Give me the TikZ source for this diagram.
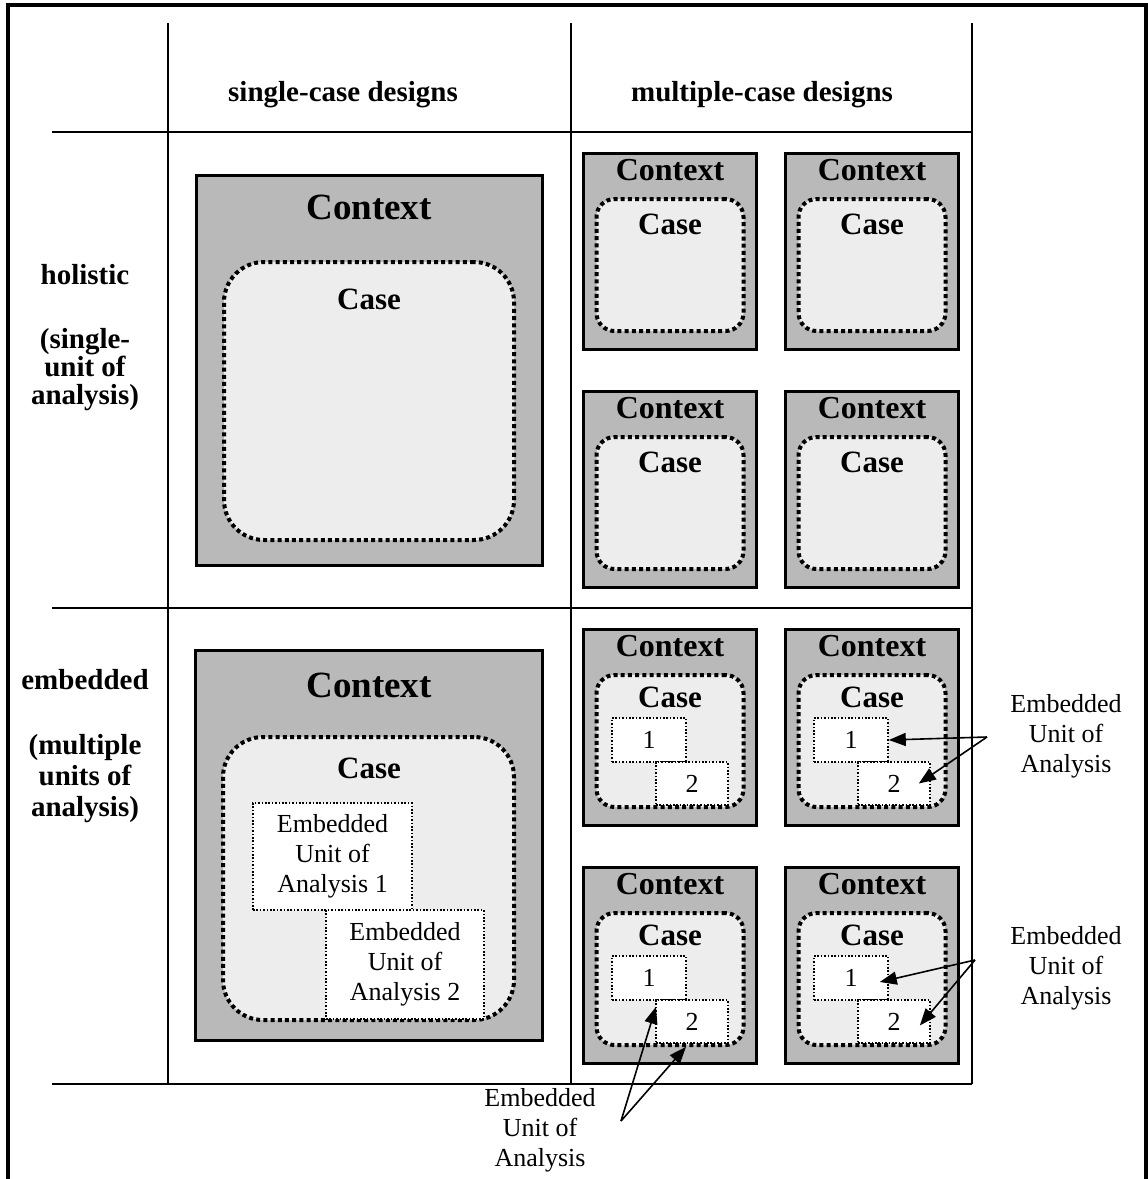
\documentclass[tikz,border=0pt]{standalone}
\usepackage{fontspec}
\setmainfont{Liberation Serif}
\usetikzlibrary{arrows.meta}
\definecolor{ctxgray}{RGB}{185,185,185}
\definecolor{casegray}{RGB}{237,237,237}
\newcommand{\fsz}[2]{\fontsize{#1}{#2}\selectfont}

\begin{document}
\begin{tikzpicture}[x=1pt,y=-1pt,
  frame/.style={line width=4pt},
  gridline/.style={line width=1.6pt},
  ctxbox/.style={draw=black, fill=ctxgray, line width=3pt, rectangle, inner sep=0pt},
  casebig/.style={draw=black, fill=casegray, line width=4pt, dash pattern=on 4pt off 3.2pt,
    rectangle, rounded corners=40pt, inner sep=0pt},
  casesmall/.style={casebig, rounded corners=18pt},
  unitbox/.style={draw=black, fill=white, line width=1.6pt, dash pattern=on 1.6pt off 1.8pt,
    rectangle, inner sep=0pt, align=center, font=\fsz{26}{30}},
  hdr/.style={font=\fsz{29}{29}\bfseries, align=center, inner sep=0pt},
  ctxbig/.style={font=\fsz{37}{37}\bfseries, inner sep=0pt},
  ctxsmall/.style={font=\fsz{32}{32}\bfseries, inner sep=0pt},
  caselbl/.style={font=\fsz{31}{31}\bfseries, inner sep=0pt},
  note/.style={font=\fsz{26}{30}, align=center, inner sep=0pt},
  arr/.style={line width=1.6pt, -{Triangle[length=17pt,width=13pt]}},
  mctx/.style={ctxbox, minimum width=173pt, minimum height=196pt},
  mcase/.style={casesmall, minimum width=147pt, minimum height=132pt},
  u1/.style={unitbox, minimum width=74pt, minimum height=44pt},
  u2/.style={unitbox, minimum width=72pt, minimum height=43pt}
]
\useasboundingbox (0,0) rectangle (1148,1179);

% outer frame (open at the bottom)
\draw[frame] (8,1190) -- (8,5) -- (1146,5) -- (1146,1190);

% table grid
\draw[gridline] (52,132) -- (972,132);
\draw[gridline] (52,608) -- (972,608);
\draw[gridline] (52,1084) -- (972,1084);
\draw[gridline] (168,23) -- (168,1084);
\draw[gridline] (571,23) -- (571,1084);
\draw[gridline] (972,23) -- (972,1084);

% column and row headers
\node[hdr] (hsingle) at (343,95) {single-case designs};
\node[hdr] (hmulti) at (762,95) {multiple-case designs};
\node[hdr] (rhol) at (85,275) {holistic};
\node[hdr, font=\fsz{29}{28}\bfseries] (rholsub) at (85,370) {(single-\\unit of\\analysis)};
\node[hdr] (remb) at (85,680) {embedded};
\node[hdr, font=\fsz{29}{31}\bfseries] (rembsub) at (85,779) {(multiple\\units of\\analysis)};

% single-case, holistic
\node[ctxbox, minimum width=346pt, minimum height=390pt] (sH) at (369,370) {};
\node[casebig, minimum width=290pt, minimum height=278pt] (sHc) at (369,401) {};
\node[ctxbig] (sHt) at (369,207) {Context};
\node[caselbl] (sHct) at (369,299) {Case};

% single-case, embedded
\node[ctxbox, minimum width=347pt, minimum height=390pt] (sE) at (369,845) {};
\node[casebig, minimum width=291pt, minimum height=283pt] (sEc) at (368.5,878.5) {};
\node[ctxbig] (sEt) at (369,685) {Context};
\node[caselbl] (sEct) at (369,768) {Case};
\node[unitbox, minimum width=159pt, minimum height=107pt] (sEu1) at (332.5,856.5)
  {Embedded\\Unit of\\Analysis 1};
\node[unitbox, minimum width=158pt, minimum height=109pt] (sEu2) at (405,964.5)
  {Embedded\\Unit of\\Analysis 2};

% multiple-case, holistic
\foreach \nm/\cx/\cy in {mH1/670/251, mH2/872/251, mH3/670/489, mH4/872/489}{
  \node[mctx] (\nm) at (\cx,\cy) {};
  \node[mcase] (\nm c) at (\cx,\cy+14) {};
  \node[ctxsmall] (\nm t) at (\cx,\cy-81) {Context};
  \node[caselbl] (\nm ct) at (\cx,\cy-27) {Case};
}

% multiple-case, embedded
\foreach \nm/\cx/\cy in {mE1/670/727, mE2/872/727, mE3/670/965, mE4/872/965}{
  \node[mctx] (\nm) at (\cx,\cy) {};
  \node[mcase] (\nm c) at (\cx,\cy+14) {};
  \node[ctxsmall] (\nm t) at (\cx,\cy-81) {Context};
  \node[caselbl] (\nm ct) at (\cx,\cy-30) {Case};
  \node[u1] (\nm u1) at (\cx-21,\cy+13) {1};
  \node[u2] (\nm u2) at (\cx+22,\cy+56.5) {2};
}

% callouts for the embedded units
\node[note] (nTR) at (1066,736) {Embedded\\Unit of\\Analysis};
\node[note] (nBR) at (1066,968) {Embedded\\Unit of\\Analysis};
\node[note] (nBL) at (540,1130) {Embedded\\Unit of\\Analysis};
\coordinate (pTR) at (987,737);
\coordinate (pBR) at (975,960);
\coordinate (pBL) at (621,1121);

\draw[arr] (pTR) -- (mE2u1.east);
\draw[arr] (pTR) -- ([xshift=-12pt]mE2u2.east);
\draw[arr] (pBR) -- ([xshift=-9pt,yshift=-4pt]mE4u1.east);
\draw[arr] (pBR) -- ([xshift=-11pt,yshift=-4pt]mE4u2.east);
\draw[arr] (pBL) -- ([xshift=7pt,yshift=-6pt]mE3u1.south);
\draw[arr] (pBL) -- ([xshift=-6pt,yshift=-3pt]mE3u2.south);
\end{tikzpicture}
\end{document}
